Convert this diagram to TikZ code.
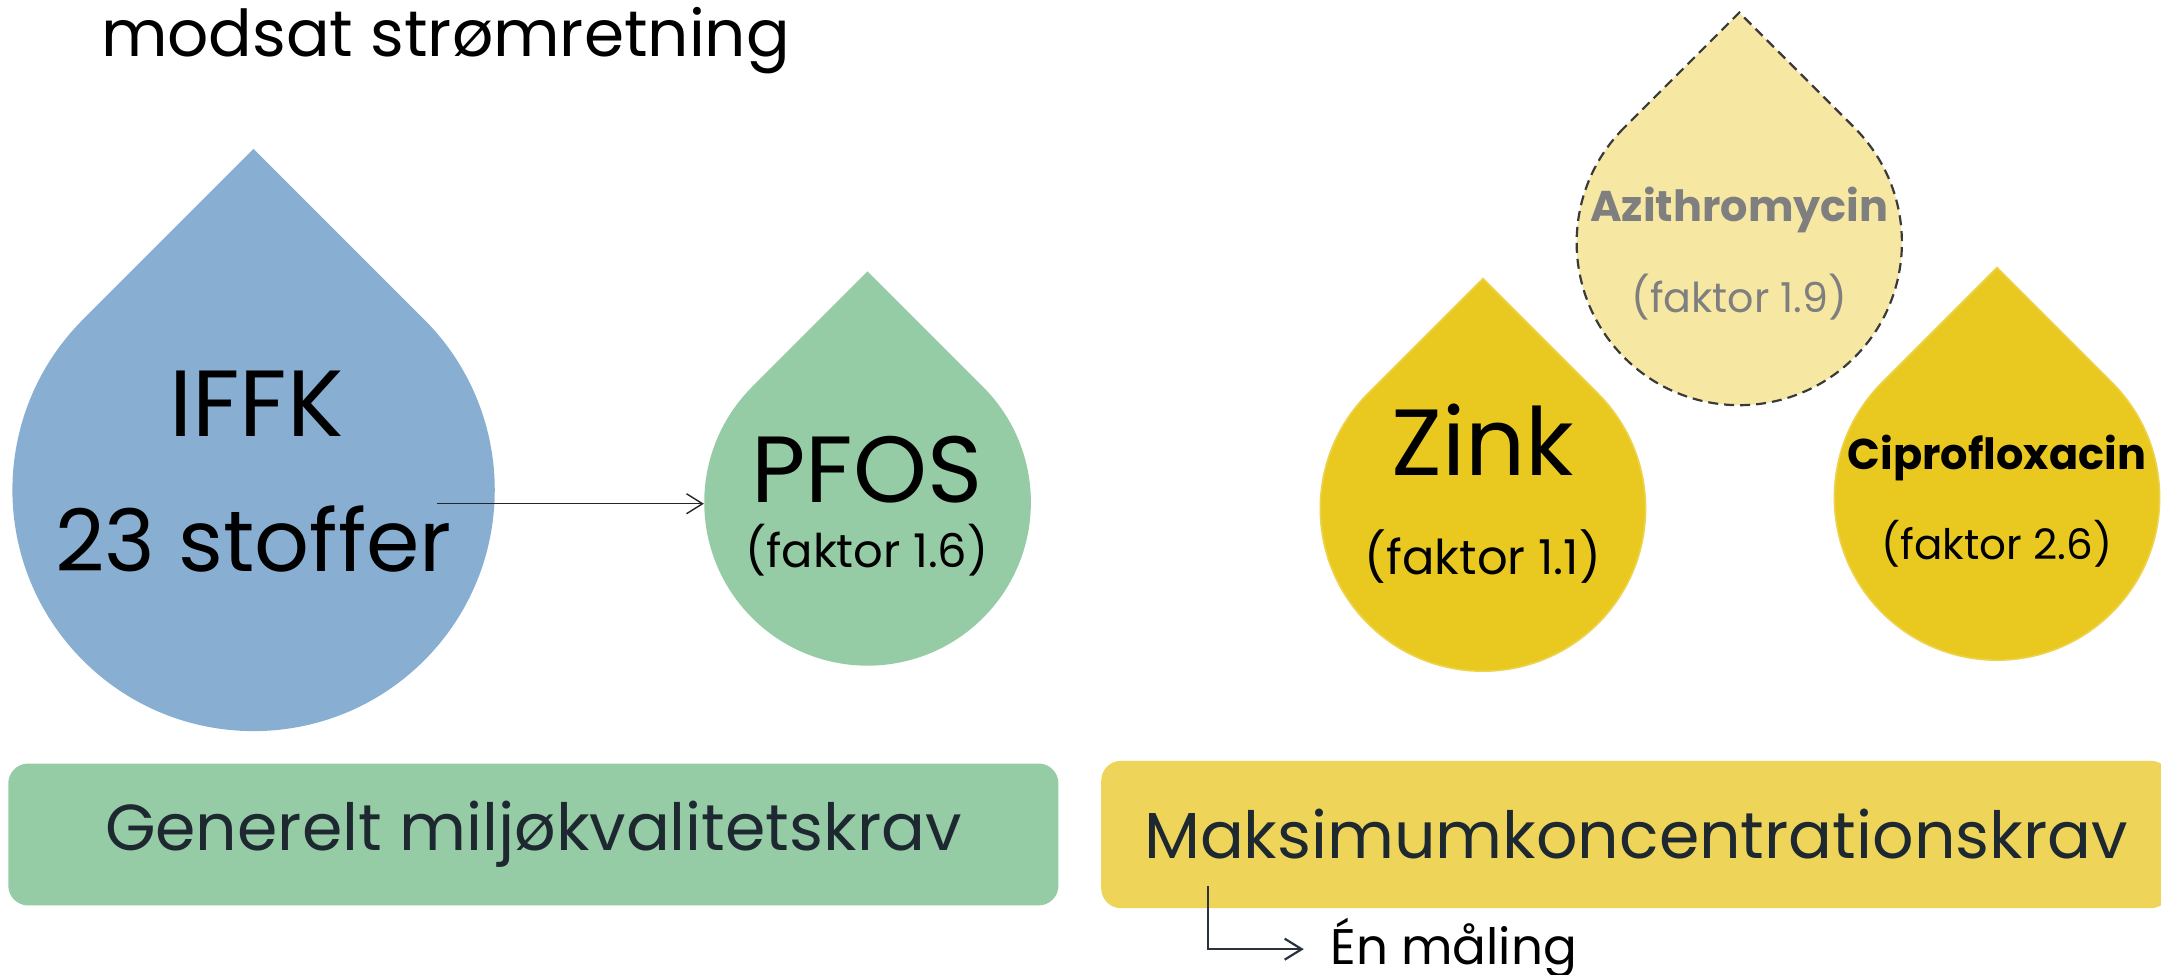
\documentclass[tikz,border=0pt]{standalone}
\usepackage{fontspec}
\setmainfont{Poppins}
\usetikzlibrary{arrows.meta}
\definecolor{dropblue}{HTML}{88AED2}
\definecolor{dropgreen}{HTML}{95CBA5}
\definecolor{dropyellow}{HTML}{E9C91F}
\definecolor{dropyellowedge}{HTML}{EDD24E}
\definecolor{droppale}{HTML}{F6E8A3}
\definecolor{boxyellow}{HTML}{EED55A}
\definecolor{boxtext}{HTML}{1E2830}
\definecolor{grayText}{HTML}{7F7F7F}
\definecolor{dashline}{HTML}{3A3A3A}
\definecolor{elbowcol}{HTML}{2A333D}
\newcommand{\dropshape}[4]{%
  \path[#4] (#1,#2) ++(135:#3) arc[start angle=135,end angle=405,radius={#3*0.689pt}] -- (#1,{#2+1.41421*#3}) -- cycle;
  }
\tikzset{
  txt/.style={inner sep=0pt, anchor=base},
  anchorcircle/.style={circle, inner sep=0pt, minimum size={#1*1.378pt}},
  crbox/.style={rounded corners=10pt, inner sep=0pt, text=boxtext, font=\fontsize{32.5}{40}\selectfont},
  thinarrow/.style={draw=black!85, line width=0.7pt, -{Straight Barb[length=8pt,width=10pt]}},
  elbowarrow/.style={draw=elbowcol, line width=1.1pt, -{Straight Barb[length=8.5pt,width=10.5pt]}},
}
\begin{document}
\begin{tikzpicture}[x=0.689pt,y=0.689pt]
\useasboundingbox (0,0) rectangle (1568,-707);
% title
\node[txt, anchor=base west, font=\fontsize{32.3}{40}\selectfont] (title) at (73,-41) {modsat strømretning};
% drops
\dropshape{184}{-355.5}{175}{fill=dropblue}
\dropshape{629.5}{-364.5}{118.5}{fill=dropgreen}
\dropshape{1076}{-369}{118}{fill=dropyellow, draw=dropyellowedge, line width=0.8pt}
\dropshape{1262}{-176}{118}{fill=droppale, draw=dashline, dash pattern=on 5pt off 3pt, line width=1.1pt}
\dropshape{1449}{-361}{118}{fill=dropyellow, draw=dropyellowedge, line width=0.8pt}
\node[anchorcircle=175] (iffkc) at (184,-355.5) {};
\node[anchorcircle=118.5] (pfosc) at (629.5,-364.5) {};
\node[anchorcircle=118] (zinkc) at (1076,-369) {};
\node[anchorcircle=118] (azic) at (1262,-176) {};
\node[anchorcircle=118] (cipc) at (1449,-361) {};
% drop texts
\node[txt, font=\fontsize{47}{56}\selectfont] (iffk) at (186,-317) {IFFK};
\node[txt, font=\fontsize{43}{52}\selectfont] (stoffer) at (184,-415) {23 stoffer};
\node[txt, font=\fontsize{47}{56}\selectfont] (pfos) at (629,-364.5) {PFOS};
\node[txt, font=\fontsize{23.2}{28}\selectfont] (pfosf) at (629,-412) {(faktor 1.6)};
\node[txt, font=\fontsize{47}{56}\selectfont] (zink) at (1076,-345) {Zink};
\node[txt, font=\fontsize{24}{30}\selectfont] (zinkf) at (1076,-417) {(faktor 1.1)};
\node[txt, font=\fontsize{21.5}{26}\selectfont\bfseries, text=grayText] (azi) at (1262,-161) {Azithromycin};
\node[txt, font=\fontsize{20.6}{26}\selectfont, text=grayText] (azif) at (1262,-227) {(faktor 1.9)};
\node[txt, font=\fontsize{21.5}{26}\selectfont\bfseries] (cip) at (1449,-341) {Ciprofloxacin};
\node[txt, font=\fontsize{21}{26}\selectfont] (cipf) at (1449,-406) {(faktor 2.6)};
% boxes
\node[crbox, fill=dropgreen, minimum width={762*0.689pt}, minimum height={103*0.689pt}] (gen) at (387,-605.5) {Generelt miljøkvalitetskrav};
\node[crbox, fill=boxyellow, minimum width={776*0.689pt}, minimum height={107*0.689pt}] (maks) at (1187,-605.5) {Maksimumkoncentrationskrav};
\node[txt, anchor=base west, font=\fontsize{25}{30}\selectfont] (en) at (965,-700) {Én måling};
% connectors
\coordinate (a1) at (317,-365.5);
\draw[thinarrow] (a1) -- (a1 -| pfosc.west);
\coordinate (m1) at (876.4,-643);
\draw[elbowarrow] (m1) |- (946,-688.7) coordinate (m2);
\end{tikzpicture}
\end{document}
